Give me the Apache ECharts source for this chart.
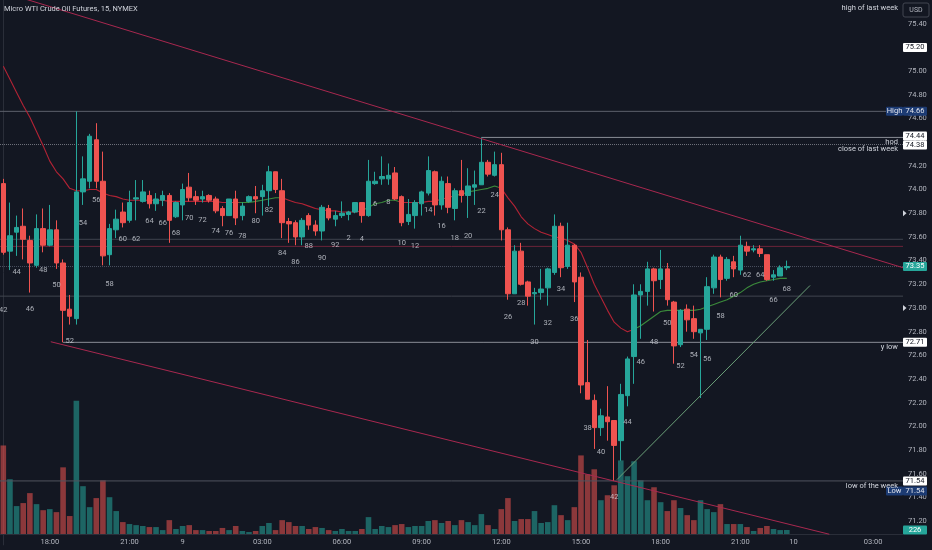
<!DOCTYPE html>
<html><head><meta charset="utf-8">
<script src="https://cdn.jsdelivr.net/npm/echarts@6/dist/echarts.min.js"></script>
<style>html,body{margin:0;padding:0;background:#131722;}#c{width:932px;height:550px;}</style>
</head><body><div id="c"></div>
<script>
// ---------- data ----------
const opens  = [74.05,73.48,73.64,73.69,73.57,73.36,73.67,73.53,73.66,73.38,72.99,72.91,73.98,74.07,74.42,74.07,73.45,73.66,73.81,73.74,
73.92,73.90,73.95,73.88,73.91,73.95,73.77,73.87,74.02,73.94,73.92,73.95,73.92,73.84,73.78,73.92,73.78,73.90,73.94,73.94,
73.99,74.15,73.99,73.73,73.72,73.60,73.78,73.70,73.65,73.84,73.75,73.78,73.79,73.81,73.89,73.78,74.05,74.09,74.09,74.14,
73.94,73.73,73.78,73.88,73.97,74.15,73.87,74.05,73.84,73.99,73.95,74.02,74.04,74.23,74.12,74.21,73.66,73.12,73.48,73.22,
73.12,73.13,73.17,73.30,73.69,73.35,73.53,73.26,72.37,72.22,71.99,72.08,72.05,71.88,72.26,72.59,73.11,73.14,73.33,73.24,
73.33,73.05,72.69,72.99,72.91,72.79,72.82,73.17,73.43,73.25,73.39,73.32,73.52,73.49,73.50,73.45,73.26,73.27,73.34];
const closes = [73.47,73.61,73.68,73.58,73.38,73.67,73.53,73.66,73.38,72.98,72.93,73.98,74.09,74.45,74.07,73.44,73.67,73.75,73.72,73.89,
73.93,73.98,73.88,73.92,73.95,73.74,73.89,74.00,73.93,73.91,73.94,73.91,73.82,73.78,73.92,73.76,73.86,73.94,73.92,73.99,
74.15,74.00,73.72,73.71,73.60,73.74,73.70,73.65,73.85,73.76,73.78,73.80,73.81,73.89,73.78,74.07,74.07,74.11,74.12,73.92,
73.72,73.79,73.89,73.98,74.16,73.87,74.07,73.85,73.99,73.95,74.03,74.04,74.23,74.13,74.21,73.66,73.12,73.48,73.20,73.10,
73.13,73.16,73.33,73.69,73.34,73.53,73.22,72.35,72.23,71.99,72.09,72.04,71.84,72.27,72.57,73.11,73.14,73.33,73.23,73.33,
73.07,72.68,72.98,72.90,72.80,72.82,73.18,73.43,73.24,73.41,73.33,73.53,73.48,73.50,73.46,73.24,73.28,73.34,73.35];
const lows   = [73.45,73.32,73.44,73.41,73.13,73.34,73.47,73.52,73.33,72.71,72.86,72.86,73.87,74.01,74.01,73.36,73.36,73.59,73.68,73.72,
73.74,73.89,73.84,73.82,73.86,73.55,73.76,73.74,73.90,73.87,73.89,73.89,73.80,73.69,73.78,73.70,73.74,73.89,73.80,73.78,
73.86,73.97,73.59,73.55,73.53,73.53,73.66,73.61,73.57,73.74,73.69,73.76,73.74,73.80,73.72,73.77,74.04,74.04,74.04,73.91,
73.69,73.70,73.67,73.78,73.95,73.78,73.83,73.80,73.74,73.89,73.76,73.87,74.04,74.11,74.11,73.57,73.07,73.12,73.19,73.02,
72.86,73.07,73.02,73.28,73.26,73.33,73.05,72.28,72.23,71.81,71.92,71.88,71.54,71.71,72.17,72.36,72.74,73.02,72.97,73.16,
73.02,72.53,72.67,72.80,72.74,72.24,72.73,73.12,73.09,73.23,73.26,73.28,73.44,73.47,73.43,73.23,73.23,73.27,73.32];
const highs  = [74.09,73.89,73.78,73.84,73.61,73.79,73.84,73.87,73.74,73.41,73.11,74.66,74.28,74.47,74.56,74.32,73.71,73.83,73.89,73.99,
74.08,74.08,73.99,73.97,73.99,73.97,73.90,74.05,74.14,73.99,73.99,73.96,73.94,73.86,73.92,73.99,73.89,73.95,74.03,74.04,
74.20,74.15,74.09,73.76,73.74,73.76,73.80,73.74,73.87,73.87,73.82,73.90,73.82,73.89,73.89,74.25,74.15,74.28,74.22,74.19,
73.95,73.92,73.91,73.99,74.28,74.16,74.11,74.11,74.01,74.25,74.18,74.16,74.44,74.25,74.32,74.31,73.68,73.53,73.55,73.23,
73.17,73.33,73.34,73.79,73.72,73.72,73.54,73.30,72.73,72.27,72.15,72.34,72.05,72.36,72.59,73.20,73.20,73.39,73.34,73.49,
73.38,73.06,72.99,73.03,73.02,72.82,73.26,73.45,73.45,73.43,73.44,73.61,73.56,73.53,73.53,73.45,73.32,73.36,73.40];
const volumes = [4980,3080,1570,1740,2300,1680,1340,1400,1230,3750,1010,7500,2690,1510,2020,3020,2070,1290,670,560,
500,450,390,390,220,780,280,450,500,220,220,170,170,340,220,450,170,110,170,450,
620,220,780,670,450,450,280,390,340,220,170,280,170,170,280,950,280,450,390,500,
560,390,450,450,730,780,620,730,500,780,670,500,1120,500,280,1400,2020,730,840,840,
1290,620,670,1620,1060,780,1510,4420,3360,3640,1900,2180,2740,4140,3250,4090,3020,1900,2630,1790,
1290,1900,1460,1060,780,1900,1400,1230,1680,560,560,560,390,170,340,450,280,220,226];
const maValues = [75.04,74.93,74.82,74.71,74.61,74.49,74.37,74.24,74.15,74.09,74.01,73.99,73.99,74.00,74.00,73.97,73.95,73.94,73.92,73.91,
73.91,73.91,73.91,73.91,73.91,73.90,73.90,73.90,73.90,73.90,73.90,73.90,73.90,73.89,73.89,73.89,73.89,73.89,73.90,73.91,
73.92,73.93,73.93,73.91,73.89,73.88,73.86,73.84,73.83,73.82,73.82,73.81,73.81,73.81,73.82,73.85,73.88,73.89,73.91,73.91,
73.89,73.89,73.89,73.89,73.90,73.90,73.92,73.93,73.95,73.96,73.98,73.99,74.00,74.01,74.03,74.01,73.93,73.86,73.77,73.71,
73.67,73.64,73.62,73.60,73.59,73.57,73.54,73.47,73.34,73.20,73.09,72.98,72.88,72.83,72.80,72.82,72.85,72.89,72.93,72.97,
72.98,72.98,72.98,72.98,72.98,72.99,73.01,73.03,73.05,73.07,73.10,73.13,73.17,73.20,73.22,73.23,73.24,73.25,73.25];
const countLabels = [42,44,46,48,50,52,54,56,58,60,62,64,66,68,70,72,74,76,78,80,82,84,86,88,90,92,
2,4,6,8,10,12,14,16,18,20,22,24,26,28,30,32,34,36,38,40,42,44,46,48,50,52,54,56,58,60,62,64,66,68];
const countLabelPrices = [72.98,73.30,72.99,73.32,73.19,72.72,73.72,73.91,73.20,73.58,73.58,73.73,73.72,73.63,73.76,73.74,73.65,73.63,73.61,73.73,
73.83,73.46,73.39,73.52,73.42,73.53,73.59,73.58,73.88,73.89,73.55,73.52,73.83,73.69,73.59,73.61,73.82,73.95,72.92,73.04,
72.71,72.87,73.16,72.91,71.99,71.78,71.40,72.04,72.54,72.71,72.87,72.51,72.60,72.57,72.93,73.11,73.28,73.28,73.07,73.16];
// horizontal levels: price and bar index where each starts
const levelNames  = ['high of last week','High','hod','close of last week','level a','level b','last','level c','y low','low of the week'];
const levelPrices = [75.57, 74.66, 74.44, 74.38, 73.58, 73.52, 73.35, 73.10, 72.71, 71.54];
const levelStart  = [-0.5, -0.5, 72, -0.5, -0.5, -0.5, -0.5, -0.5, 9, -0.5];
// trend lines [barIndex, price]
const trendUpper = [[0, 75.665], [135.5, 73.34]];
const trendLower = [[7.15, 72.715], [124.4, 71.09]];
const trendGreen = [[92.4, 71.55], [121.5, 73.19]];
const lastVolume = 226;

// time categories (15 minute bars, session break 22:00-23:00)
const categories = [];
(function () {
  let day = 8, h = 16, m = 15;
  const pad = n => (n < 10 ? '0' : '') + n;
  for (let i = 0; i < 136; i++) {
    categories.push(day + ' ' + pad(h) + ':' + pad(m));
    m += 15;
    if (m === 60) { m = 0; h++; }
    if (h === 22) h = 23;
    if (h === 24) { h = 0; day++; }
  }
})();

// ---------- chart ----------
const N = categories.length;
const upC = '#26a69a', dnC = '#ef5350';
const FONT = 'Roboto';
const chart = echarts.init(document.getElementById('c'));

const candleData = opens.map((o, i) => [o, closes[i], lows[i], highs[i]]);
const volData = volumes.map((v, i) => ({
  value: v,
  itemStyle: { color: closes[i] >= opens[i] ? 'rgba(38,166,154,0.55)' : 'rgba(239,83,80,0.55)' }
}));

function hLine(idx, color, type, width) {
  return {
    type: 'line', xAxisIndex: 2, yAxisIndex: 0, symbol: 'none', silent: true, z: 1,
    data: [[levelStart[idx], levelPrices[idx]], [N - 0.5, levelPrices[idx]]],
    lineStyle: { color: color, type: type || 'solid', width: width || 1 }
  };
}
function tLine(pts, color) {
  return { type: 'line', xAxisIndex: 2, yAxisIndex: 0, symbol: 'none', silent: true, z: 4,
    data: pts, lineStyle: { color: color, width: 1 } };
}

const option = {
  backgroundColor: '#131722',
  animation: false,
  textStyle: { fontFamily: FONT },
  grid: [
    { left: -4, right: 29, top: -4.8, bottom: 5.1 },
    { left: -4, right: 29, top: 390, bottom: 16 }
  ],
  xAxis: [
    { type: 'category', gridIndex: 0, data: categories, show: false, boundaryGap: true },
    { type: 'category', gridIndex: 1, data: categories, boundaryGap: true,
      axisLine: { lineStyle: { color: '#2a2e39' } }, axisTick: { show: false }, splitLine: { show: false },
      axisLabel: {
        color: '#b2b5be', fontSize: 7.5, margin: 4, fontFamily: FONT,
        interval: (idx, val) => { const t = val.split(' ')[1]; return t.slice(3) === '00' && parseInt(t, 10) % 3 === 0; },
        formatter: val => { const p = val.split(' '); return p[1] === '00:00' ? p[0] : p[1]; }
      } },
    { type: 'value', gridIndex: 0, min: -0.5, max: N - 0.5, show: false }
  ],
  yAxis: [
    { type: 'value', gridIndex: 0, position: 'right', min: 71.0, max: 75.6, interval: 0.2, scale: true,
      axisLine: { show: true, lineStyle: { color: '#2a2e39' } }, axisTick: { show: false }, splitLine: { show: false },
      axisLabel: { color: '#b2b5be', fontSize: 7.5, margin: 5, fontFamily: FONT,
        formatter: v => (v < 71.1 || v > 75.5) ? '' : v.toFixed(2) } },
    { type: 'value', gridIndex: 1, min: 0, max: 8100, show: false }
  ],
  visualMap: [{
    type: 'piecewise', show: false, seriesIndex: 2, dimension: 0,
    pieces: [
      { lt: 35.5, color: '#b22234' }, { gte: 35.5, lt: 41.5, color: '#3a8a3a' },
      { gte: 41.5, lt: 53.5, color: '#b22234' }, { gte: 53.5, lt: 59.5, color: '#3a8a3a' },
      { gte: 59.5, lt: 67.5, color: '#b22234' }, { gte: 67.5, lt: 74.5, color: '#3a8a3a' },
      { gte: 74.5, lt: 94.5, color: '#b22234' }, { gte: 94.5, color: '#3a8a3a' }
    ]
  }],
  series: [
    { type: 'bar', xAxisIndex: 1, yAxisIndex: 1, barWidth: '84%', data: volData, silent: true, z: 1 },
    { type: 'candlestick', xAxisIndex: 0, yAxisIndex: 0, barWidth: 5, data: candleData, z: 3,
      itemStyle: { color: upC, color0: dnC, borderColor: upC, borderColor0: dnC, borderWidth: 1 } },
    { type: 'line', xAxisIndex: 2, yAxisIndex: 0, symbol: 'none', silent: true, z: 2,
      data: maValues.map((v, i) => [i, v]), lineStyle: { width: 1.1 } },
    hLine(1, '#5d606b'),
    hLine(2, '#8a8d96'),
    hLine(3, '#6f727c', 'dotted'),
    hLine(4, '#3f434e'),
    hLine(5, '#6b2438'),
    hLine(6, '#4a5060', 'dotted'),
    hLine(7, '#41454f'),
    hLine(8, '#8a8d96'),
    hLine(9, '#50535e'),
    tLine(trendUpper, '#a8284f'),
    tLine(trendLower, '#a8284f'),
    tLine(trendGreen, '#6a9f78'),
    { type: 'scatter', xAxisIndex: 2, yAxisIndex: 0, symbolSize: 1, silent: true, z: 5,
      itemStyle: { color: 'rgba(0,0,0,0)' },
      data: countLabels.map((c, k) => [2 * k, countLabelPrices[k], c]),
      label: { show: true, position: 'inside', formatter: p => String(p.value[2]),
        color: '#d1d4dc', fontSize: 7.5, fontFamily: FONT } }
  ]
};
chart.setOption(option);

// ---------- price-scale labels & annotations ----------
const yP = p => chart.convertToPixel({ yAxisIndex: 0 }, p);
const yV = v => chart.convertToPixel({ yAxisIndex: 1 }, v);
const AX = 903, BW = 24, BH = 9;
const g = [];
function box(y, txt, bg, fg, x, w) {
  x = x == null ? AX : x; w = w || BW;
  g.push({ type: 'rect', z: 100, shape: { x: x, y: y - BH / 2, width: w, height: BH, r: 1 }, style: { fill: bg } });
  g.push({ type: 'text', z: 101, style: { text: txt, x: x + w / 2, y: y, fill: fg, font: '7.5px ' + FONT,
    align: 'center', verticalAlign: 'middle', textAlign: 'center', textVerticalAlign: 'middle' } });
}
function note(price, txt) {
  g.push({ type: 'text', z: 101, style: { text: txt, x: 898, y: yP(price) + 5, fill: '#d1d4dc', font: '7.5px ' + FONT,
    align: 'right', verticalAlign: 'middle', textAlign: 'right', textVerticalAlign: 'middle' } });
}
const NAVY = '#1c3b73';
note(levelPrices[0], levelNames[0]);
note(levelPrices[2], levelNames[2]);
note(levelPrices[3], levelNames[3]);
note(levelPrices[8], levelNames[8]);
note(levelPrices[9], levelNames[9]);
box(yP(75.20), '75.20', '#ffffff', '#131722');
box(yP(levelPrices[1]), levelPrices[1].toFixed(2), NAVY, '#e0e3eb');
box(yP(levelPrices[1]), 'High', NAVY, '#e0e3eb', 886, 17);
box(yP(levelPrices[2]) - 1.5, levelPrices[2].toFixed(2), '#ffffff', '#131722');
box(yP(levelPrices[3]) + 0.5, levelPrices[3].toFixed(2), '#ffffff', '#131722');
box(yP(levelPrices[6]), levelPrices[6].toFixed(2), upC, '#ffffff');
box(yP(levelPrices[8]), levelPrices[8].toFixed(2), '#ffffff', '#131722');
box(yP(levelPrices[9]), levelPrices[9].toFixed(2), '#ffffff', '#131722');
box(yP(levelPrices[9]) + 10, levelPrices[9].toFixed(2), NAVY, '#e0e3eb');
box(yP(levelPrices[9]) + 10, 'Low', NAVY, '#e0e3eb', 886, 17);
box(yV(lastVolume), String(lastVolume), upC, '#ffffff');
[73.80, 73.00].forEach(p => {
  const y = yP(p);
  g.push({ type: 'polygon', z: 100, shape: { points: [[903, y - 3], [906.5, y], [903, y + 3]] }, style: { fill: '#d1d4dc' } });
});
g.push({ type: 'rect', z: 100, shape: { x: 903, y: 3, width: 26, height: 14, r: 2 }, style: { fill: '#131722', stroke: '#434651', lineWidth: 1 } });
g.push({ type: 'text', z: 101, style: { text: 'USD', x: 916, y: 10, fill: '#b2b5be', font: '7px ' + FONT,
  align: 'center', verticalAlign: 'middle', textAlign: 'center', textVerticalAlign: 'middle' } });
g.push({ type: 'text', z: 101, style: { text: 'Micro WTI Crude Oil Futures, 15, NYMEX', x: 4, y: 9, fill: '#d1d4dc',
  font: '7.5px ' + FONT, align: 'left', verticalAlign: 'middle', textAlign: 'left', textVerticalAlign: 'middle' } });
chart.setOption({ graphic: g });
</script>
</body></html>
